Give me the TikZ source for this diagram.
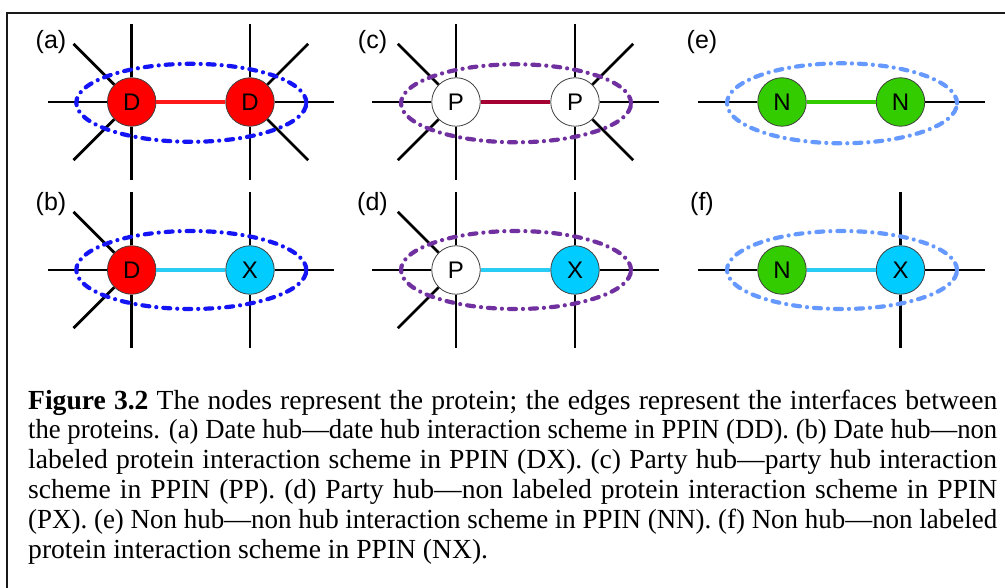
\documentclass[tikz,border=0pt]{standalone}
\usepackage{graphicx}
\usepackage{fontspec}
\setmainfont{Liberation Sans}
\newfontfamily\capfont{Liberation Serif}
\usetikzlibrary{shapes.geometric}
\definecolor{hubred}{RGB}{255,0,0}
\definecolor{linkred}{RGB}{255,25,25}
\definecolor{xcyan}{RGB}{0,204,255}
\definecolor{linkcyan}{RGB}{40,204,245}
\definecolor{linkcrim}{RGB}{165,0,50}
\definecolor{ngreen}{RGB}{51,204,0}
\definecolor{haloblue}{RGB}{20,20,245}
\definecolor{halopurple}{RGB}{112,48,160}
\definecolor{halolight}{RGB}{102,153,255}
\newlength\capw
\newcommand\capln[1]{\settowidth\capw{#1}%
  \ifdim\capw>969pt\resizebox{969pt}{\height}{#1}\else\makebox[969pt][s]{#1}\fi}
\tikzset{
  prot/.style={circle, draw=black!75, line width=0.8pt, minimum size=48.5pt, inner sep=0pt,
    font=\fontsize{24}{24}\selectfont},
  spoke/.style={line width=2.8pt, black},
  link/.style={line width=3.5pt},
  halo/.style={ellipse, draw, line width=4.2pt, line cap=round,
    dash pattern=on 7pt off 7pt on 0.01pt off 7pt,
    minimum width=230pt, minimum height=78pt, inner sep=0pt},
  panel/.style={font=\fontsize{25}{25}\selectfont, inner sep=0pt},
  capline/.style={anchor=base west, inner sep=0pt,
    font=\capfont\fontsize{27.6}{29.8}\selectfont}
}
\begin{document}
\begin{tikzpicture}[x=1pt,y=-1pt]
\useasboundingbox (0,0) rectangle (1005,588);
\fill[white] (0,0) rectangle (1005,588);
% frame
\draw[line width=2pt, black!90] (1005,13.5) -- (7,13.5) -- (7,588);

% proteins
\node[prot, fill=hubred]   (a1) at (131.7,102) {D};
\node[prot, fill=hubred]   (a2) at (250,102)   {D};
\node[prot, fill=hubred]   (b1) at (131.7,270) {D};
\node[prot, fill=xcyan]    (b2) at (250,270)   {X};
\node[prot, fill=white]    (c1) at (456,102)   {P};
\node[prot, fill=white]    (c2) at (575,102)   {P};
\node[prot, fill=white]    (d1) at (456,270)   {P};
\node[prot, fill=xcyan]    (d2) at (575,270)   {X};
\node[prot, fill=ngreen]   (e1) at (782,102)   {N};
\node[prot, fill=ngreen]   (e2) at (900.5,102) {N};
\node[prot, fill=ngreen]   (f1) at (782,270)   {N};
\node[prot, fill=xcyan]    (f2) at (900.5,270) {X};

% spokes
\foreach \n/\angs in {a1/{90,135,180,225,270}, a2/{90,45,0,315,270},
                      b1/{90,135,180,225,270}, b2/{90,0,270},
                      c1/{90,135,180,225,270}, c2/{90,45,0,315,270},
                      d1/{90,135,180,225,270}, d2/{90,0,270},
                      e1/{180}, e2/{0},
                      f1/{180}, f2/{90,0,270}}{
  \foreach \a in \angs {
    \pgfmathsetmacro\L{78+6*abs(cos(\a))}
    \path (\n.center) ++(\a:\L pt) coordinate (\n-\a);
    \draw[spoke] (\n) -- (\n-\a);
  }
}

% links
\draw[link, linkred]  (a1) -- (a2);
\draw[link, linkcyan] (b1) -- (b2);
\draw[link, linkcrim] (c1) -- (c2);
\draw[link, linkcyan] (d1) -- (d2);
\draw[link, ngreen]   (e1) -- (e2);
\draw[link, linkcyan] (f1) -- (f2);

% halos
\node[halo, draw=haloblue]   (ha) at (191.3,102.8) {};
\node[halo, draw=haloblue]   (hb) at (191.3,270) {};
\node[halo, draw=halopurple] (hc) at (516,103.3) {};
\node[halo, draw=halopurple] (hd) at (516,270) {};
\node[halo, draw=halolight, minimum height=80pt] (he) at (842,103.3) {};
\node[halo, draw=halolight]  (hf) at (842,270) {};

% panel labels
\node[panel] (la) at (51,42)    {(a)};
\node[panel] (lb) at (51,204)   {(b)};
\node[panel] (lc) at (372.5,42) {(c)};
\node[panel] (ld) at (372.5,204){(d)};
\node[panel] (le) at (702,42)   {(e)};
\node[panel] (lf) at (702,204)  {(f)};

% caption
\node[capline] (cap1) at (28,409)   {\capln{\textbf{Figure 3.2} The nodes represent the protein; the edges represent the interfaces between}};
\node[capline] (cap2) at (28,438.8) {\capln{the proteins. (a) Date hub—date hub interaction scheme in PPIN (DD). (b) Date hub—non}};
\node[capline] (cap3) at (28,468.6) {\capln{labeled protein interaction scheme in PPIN (DX). (c) Party hub—party hub interaction}};
\node[capline] (cap4) at (28,498.4) {\capln{scheme in PPIN (PP). (d) Party hub—non labeled protein interaction scheme in PPIN}};
\node[capline] (cap5) at (28,528.2) {\capln{(PX). (e) Non hub—non hub interaction scheme in PPIN (NN). (f) Non hub—non labeled}};
\node[capline] (cap6) at (28,558)   {protein interaction scheme in PPIN (NX).};
\end{tikzpicture}
\end{document}
